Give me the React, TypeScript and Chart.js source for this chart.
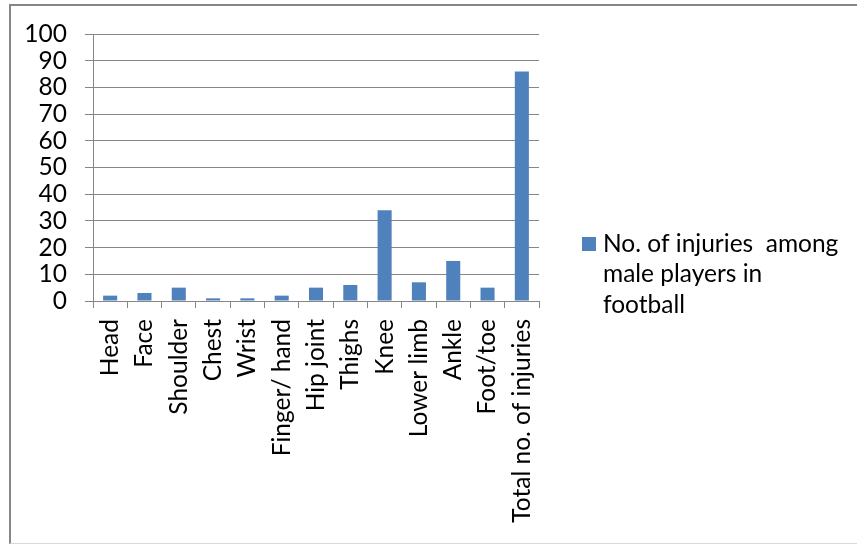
import React, { useEffect, useRef } from "react";
import { Chart, registerables } from "chart.js";

Chart.register(...registerables);

const categories = [
  "Head",
  "Face",
  "Shoulder",
  "Chest",
  "Wrist",
  "Finger/ hand",
  "Hip joint",
  "Thighs",
  "Knee",
  "Lower limb",
  "Ankle",
  "Foot/toe",
  "Total no. of injuries",
];
const injuries = [2, 3, 5, 1, 1, 2, 5, 6, 34, 7, 15, 5, 86];
const seriesLabel = "No. of injuries  among\nmale players in\nfootball";
const yMin = 0;
const yMax = 100;
const yStep = 10;

const FONT = "Lato";
const FONT_SIZE = 24.5;
const GRID = "#868686";
const BAR = "#4F81BD";

const legendPlugin = {
  id: "sideLegend",
  afterDraw(chart: any) {
    const ctx = chart.ctx;
    const ds = chart.data.datasets[0];
    const lines = String(ds.label).split("\n");
    ctx.save();
    ctx.fillStyle = ds.backgroundColor;
    ctx.fillRect(582, 237, 14, 14);
    ctx.fillStyle = "#000";
    ctx.font = `${FONT_SIZE}px ${FONT}`;
    ctx.textAlign = "left";
    ctx.textBaseline = "alphabetic";
    lines.forEach((l: string, i: number) => {
      ctx.fillText(l, 603, 252 + i * 30.3);
    });
    ctx.restore();
  },
};

export default function App() {
  const ref = useRef<HTMLCanvasElement | null>(null);

  useEffect(() => {
    if (!ref.current) return;
    const chart = new Chart(ref.current, {
      type: "bar",
      data: {
        labels: categories,
        datasets: [
          {
            label: seriesLabel,
            data: injuries,
            backgroundColor: BAR,
            borderWidth: 0,
            barPercentage: 0.41,
            categoryPercentage: 1,
          },
        ],
      },
      options: {
        responsive: false,
        animation: false,
        layout: { padding: { top: 34, right: 318, left: 0, bottom: 0 } },
        plugins: {
          legend: { display: false },
          tooltip: { enabled: false },
        },
        scales: {
          x: {
            offset: true,
            grid: {
              display: true,
              drawOnChartArea: false,
              drawTicks: true,
              tickLength: 7,
              color: GRID,
              offset: true,
            },
            border: { display: true, color: GRID, width: 1 },
            ticks: {
              autoSkip: false,
              maxRotation: 90,
              minRotation: 90,
              padding: 11,
              color: "#000",
              font: { family: FONT, size: FONT_SIZE },
            },
            afterFit(scale: any) {
              scale.height = 245;
            },
          },
          y: {
            min: yMin,
            max: yMax,
            ticks: {
              stepSize: yStep,
              autoSkip: false,
              padding: 18,
              color: "#000",
              font: { family: FONT, size: FONT_SIZE },
            },
            grid: {
              color: GRID,
              tickLength: 8,
              drawTicks: true,
            },
            border: { display: true, color: GRID, width: 1 },
            afterFit(scale: any) {
              scale.width = 93;
            },
          },
        },
      },
      plugins: [legendPlugin],
    });
    return () => chart.destroy();
  }, []);

  return (
    <div
      style={{
        position: "fixed",
        left: 0,
        top: 0,
        width: 857,
        height: 546,
        overflow: "hidden",
        background: "#fff",
      }}
    >
      <div
        style={{
          position: "absolute",
          left: 9,
          top: 4,
          width: 900,
          height: 540,
          borderLeft: "2px solid #868686",
          borderTop: "2px solid #868686",
          borderBottom: "1px solid #d9d9d9",
          boxSizing: "border-box",
        }}
      />
      <canvas
        ref={ref}
        width={857}
        height={546}
        style={{ position: "absolute", left: 0, top: 0 }}
      />
    </div>
  );
}
